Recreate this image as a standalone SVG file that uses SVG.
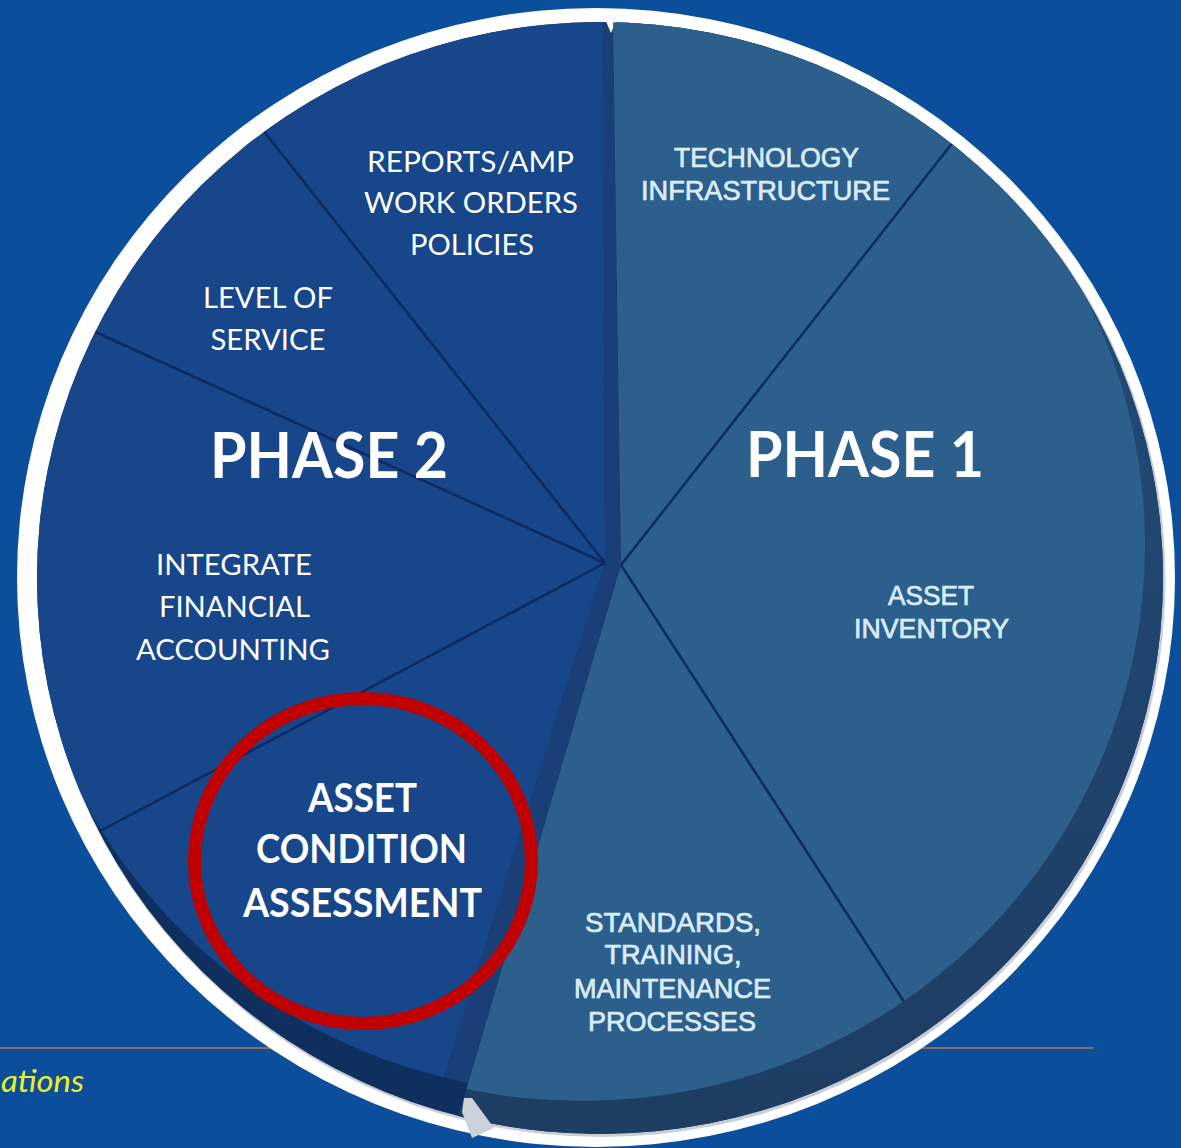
<svg xmlns="http://www.w3.org/2000/svg" width="1181" height="1148" viewBox="0 0 1181 1148">
<defs>
  <clipPath id="inner"><ellipse cx="600" cy="578" rx="563" ry="556"/></clipPath>
  <clipPath id="face1"><ellipse cx="582" cy="545" rx="563" ry="556"/></clipPath>
  <clipPath id="face2"><ellipse cx="580" cy="538" rx="563" ry="556"/></clipPath>
  <linearGradient id="side1" x1="0" y1="0" x2="0" y2="1">
    <stop offset="0" stop-color="#22507e"/>
    <stop offset="1" stop-color="#1d3b60"/>
  </linearGradient>
</defs>
<style>
  .lbl{font-family:Lato,'Open Sans','Liberation Sans',sans-serif;fill:#ffffff;text-anchor:middle}
  .sm{font-size:29px}
  .bold{font-weight:700}
  .ar{font-family:'Liberation Sans',Arial,sans-serif;font-size:27px;fill:#dcedf9;stroke:#dcedf9;stroke-width:0.7;text-anchor:middle}
  .div{stroke:#0c2a60;stroke-width:2.5;fill:none}
</style>

<rect id="background" x="0" y="0" width="1181" height="1148" fill="#0b4e9c"/>
<line id="rule" x1="0" y1="1048" x2="1093" y2="1048" stroke="#c4753a" stroke-width="1.5"/>
<text id="footer" x="1" y="1092" textLength="83" lengthAdjust="spacingAndGlyphs" style="font-family:Lato,'Open Sans',sans-serif;font-style:italic;font-size:30px;fill:#eef21a">ations</text>

<g id="pie-base">
  <ellipse cx="596" cy="577.5" rx="579" ry="569.5" fill="#ffffff"/>
  <ellipse cx="601.5" cy="580" rx="564" ry="557" fill="#c8cdd7"/>
  <ellipse cx="600" cy="578" rx="563" ry="556" fill="#0f2f5e"/>
  <g clip-path="url(#inner)">
    <polygon points="621,565 612,-50 1300,-50 1300,1250 419,1250" fill="url(#side1)"/>
    <g clip-path="url(#face2)">
      <polygon points="603,-50 612,-50 621,565 419,1250 390,1250 605,563" fill="#1a3f77"/>
    </g>
  </g>
  <polygon points="464,1098 472,1098 494,1128 472,1138 462,1112" fill="#cdd1da"/>
  <polygon points="605,19 617,19 611,33" fill="#ffffff"/>
</g>

<g id="phase2-face" clip-path="url(#inner)">
  <g clip-path="url(#face2)">
    <polygon points="605,563 603,-50 -100,-50 -100,1250 390,1250" fill="#17468a"/>
  </g>
</g>
<g id="phase1-face" clip-path="url(#inner)">
  <g clip-path="url(#face1)">
    <polygon points="621,565 612,-50 1300,-50 1300,1250 419,1250" fill="#2c5f8c"/>
  </g>
</g>

<g id="connectors">
  <g clip-path="url(#inner)">
    <line class="div" x1="605" y1="563" x2="240" y2="101"/>
    <line class="div" x1="605" y1="563" x2="60" y2="316"/>
    <line class="div" x1="605" y1="563" x2="70" y2="847"/>
  </g>
  <g clip-path="url(#inner)">
    <g clip-path="url(#face1)">
      <line class="div" x1="621" y1="565" x2="990" y2="95" stroke-width="2.2"/>
      <line class="div" x1="621" y1="565" x2="930" y2="1042" stroke-width="2.2"/>
    </g>
  </g>
</g>

<ellipse id="highlight-ring" cx="363" cy="861" rx="168.5" ry="162.5" fill="none" stroke="#c00000" stroke-width="13"/>

<g id="phase2-title"><text class="lbl bold" x="329" y="478" font-size="63" textLength="238" lengthAdjust="spacingAndGlyphs">PHASE 2</text></g>
<g id="phase1-title"><text class="lbl bold" x="865" y="477" font-size="63" textLength="238" lengthAdjust="spacingAndGlyphs">PHASE 1</text></g>

<g id="reports">
  <text class="lbl sm" x="470.5" y="172" textLength="207" lengthAdjust="spacingAndGlyphs">REPORTS/AMP</text>
  <text class="lbl sm" x="471" y="213" textLength="214" lengthAdjust="spacingAndGlyphs">WORK ORDERS</text>
  <text class="lbl sm" x="472" y="255" textLength="124" lengthAdjust="spacingAndGlyphs">POLICIES</text>
</g>
<g id="level-of-service">
  <text class="lbl sm" x="268" y="308" textLength="130" lengthAdjust="spacingAndGlyphs">LEVEL OF</text>
  <text class="lbl sm" x="268" y="350" textLength="115" lengthAdjust="spacingAndGlyphs">SERVICE</text>
</g>
<g id="integrate-financial">
  <text class="lbl sm" x="234" y="575" textLength="156" lengthAdjust="spacingAndGlyphs">INTEGRATE</text>
  <text class="lbl sm" x="234.5" y="617" textLength="151" lengthAdjust="spacingAndGlyphs">FINANCIAL</text>
  <text class="lbl sm" x="233" y="660" textLength="194" lengthAdjust="spacingAndGlyphs">ACCOUNTING</text>
</g>
<g id="asset-condition">
  <text class="lbl bold" x="362.5" y="812" font-size="40" textLength="109" lengthAdjust="spacingAndGlyphs">ASSET</text>
  <text class="lbl bold" x="361.5" y="863" font-size="40" textLength="211" lengthAdjust="spacingAndGlyphs">CONDITION</text>
  <text class="lbl bold" x="362.5" y="917" font-size="40" textLength="239" lengthAdjust="spacingAndGlyphs">ASSESSMENT</text>
</g>
<g id="technology">
  <text class="ar" x="766.5" y="167" textLength="185" lengthAdjust="spacingAndGlyphs">TECHNOLOGY</text>
  <text class="ar" x="765.5" y="200" textLength="249" lengthAdjust="spacingAndGlyphs">INFRASTRUCTURE</text>
</g>
<g id="asset-inventory">
  <text class="ar" x="931" y="605" textLength="86" lengthAdjust="spacingAndGlyphs">ASSET</text>
  <text class="ar" x="931.5" y="638" textLength="155" lengthAdjust="spacingAndGlyphs">INVENTORY</text>
</g>
<g id="standards">
  <text class="ar" x="673" y="932" textLength="176" lengthAdjust="spacingAndGlyphs">STANDARDS,</text>
  <text class="ar" x="673" y="964" textLength="137" lengthAdjust="spacingAndGlyphs">TRAINING,</text>
  <text class="ar" x="672.5" y="998" textLength="197" lengthAdjust="spacingAndGlyphs">MAINTENANCE</text>
  <text class="ar" x="672" y="1031" textLength="168" lengthAdjust="spacingAndGlyphs">PROCESSES</text>
</g>
</svg>
